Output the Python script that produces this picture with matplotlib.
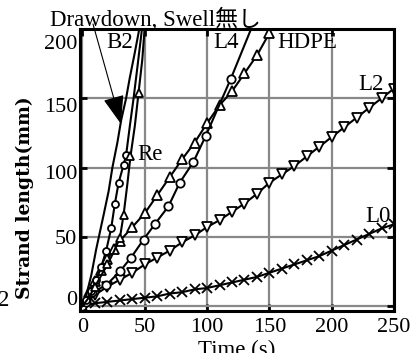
import matplotlib
matplotlib.use("Agg")
import matplotlib.pyplot as plt
import matplotlib.transforms as mtransforms

plt.rcParams['font.family'] = ['Liberation Serif', 'Noto Sans CJK JP']

# ---- data ----
l0_t = [0, 10, 20, 30, 40, 50, 60, 70, 80, 90, 100, 110, 120, 130, 140, 150, 160, 170, 180, 190, 200, 210, 220, 230, 240, 250]
l0_y = [0, 2, 3, 4, 5, 6, 7, 9, 10, 12, 13, 15, 17, 19, 21, 24, 27, 30, 33, 36, 40, 44, 48, 52, 56, 59]

l2_t = [0, 10, 20, 30, 40, 50, 60, 70, 80, 90, 100, 110, 120, 130, 140, 150, 160, 170, 180, 190, 200, 210, 220, 230, 240, 250]
l2_y = [0, 8, 14, 19, 24, 30, 35, 40, 46, 51, 57, 62, 68, 74, 81, 89, 95, 101, 108, 115, 122, 129, 136, 143, 150, 157]

hdpe_t = [0, 5, 10, 15, 20, 25, 30, 40, 50, 60, 70, 80, 90, 100, 110, 120, 130, 140, 150]
hdpe_y = [0, 10, 18, 26, 34, 41, 47, 57, 67, 80, 93, 106, 118, 132, 145, 155, 168, 181, 197]

l4_t = [0, 3, 8, 19, 30, 39, 49, 58, 69, 78, 89, 99, 119, 138]
l4_y = [0, 3, 10, 15, 25, 35, 48, 59, 72, 89, 104, 123, 164, 206]

b2a_t = [0, 2, 7, 11, 17, 21, 24, 28, 31, 35, 38, 42, 46]
b2a_y = [0, 4, 22, 41, 66, 83, 100, 118, 134, 150, 165, 183, 202]

b2b_t = [0, 3, 7, 11, 15, 19, 23, 26, 29, 33, 35, 38, 41, 44, 48]
b2b_y = [0, 4, 11, 19, 28, 40, 56, 74, 89, 102, 109, 130, 150, 172, 202]

re_t = [0, 5, 10, 15, 20, 25, 30, 33, 36, 38.5, 42, 45, 48, 50]
re_y = [0, 6, 14, 22, 30, 39, 49, 66, 88, 108, 130, 154, 178, 202]

xticks = [0, 50, 100, 150, 200, 250]
yticks = [0, 50, 100, 150, 200]

W, H = 414, 353
fig = plt.figure(figsize=(W / 100, H / 100), dpi=100)
ax = fig.add_axes([80 / W, 1 - 311 / H, 314 / W, 282 / H])

ax.set_xlim(-2, 250)
ax.set_ylim(-3.6, 200)
ax.set_xticks(xticks)
ax.set_yticks(yticks)
ax.grid(True, color='#888888', linewidth=1.6)
ax.set_axisbelow(True)
for s in ax.spines.values():
    s.set_linewidth(2.2)
ax.tick_params(direction='in', length=5, width=2, labelsize=16,
               top=True, right=True)
ax.tick_params(axis='x', pad=5)
ax.tick_params(axis='y', pad=2)

# the scanned figure's y tick labels sit slightly off their grid lines
label_shift_px = {0: 8, 50: 0, 100: -4, 150: -7, 200: -13}
for val, lab in zip(yticks, ax.get_yticklabels()):
    off = mtransforms.ScaledTranslation(0, label_shift_px[val] / 100, fig.dpi_scale_trans)
    lab.set_transform(lab.get_transform() + off)

lw = 1.5
common = dict(color='black', linewidth=lw, markerfacecolor='white',
              markeredgecolor='black', markeredgewidth=1.3, clip_on=True)

ax.plot(l0_t, l0_y, marker='x', markersize=6.5, **common)
ax.plot(l2_t, l2_y, marker='v', markersize=6.5, **common)
ax.plot(hdpe_t, hdpe_y, marker='^', markersize=6.5, **common)
ax.plot(l4_t, l4_y, marker='o', markersize=6, markevery=list(range(len(l4_t) - 1)), **common)
ax.plot(b2a_t, b2a_y, **common)
ax.plot(b2b_t, b2b_y, marker='o', markersize=5, markevery=list(range(1, 11)), **common)
ax.plot(re_t, re_y, marker='^', markersize=5.5, markevery=[2, 4, 6, 7, 9, 11], **common)

fs = 16.5
def ftext(x, y, s, **kw):
    fig.text(x / W, 1 - y / H, s, ha='center', va='center', fontsize=fs, **kw)

ftext(155, 19, 'Drawdown, Swell無し')
ftext(120, 43, 'B2')
ftext(226, 43, 'L4')
ftext(307, 43, 'HDPE')
ftext(371, 85, 'L2')
ftext(150, 155, 'Re')
ftext(378, 216, 'L0')
ftext(4, 300, '2')
ftext(237, 350, 'Time (s)')
fig.text(25 / W, 1 - 198 / H, 'Strand length(mm)', rotation=90, ha='center',
         va='center', fontsize=13.5, fontweight='bold', family='DejaVu Serif')

ax.annotate('', xy=(121 / W, 1 - 124 / H), xytext=(93 / W, 1 - 24 / H),
            xycoords='figure fraction', textcoords='figure fraction',
            arrowprops=dict(arrowstyle='-|>,head_length=1.5,head_width=0.55',
                            mutation_scale=12, color='black', linewidth=0.8,
                            shrinkA=0, shrinkB=0))

fig.savefig('out.png', dpi=100)
